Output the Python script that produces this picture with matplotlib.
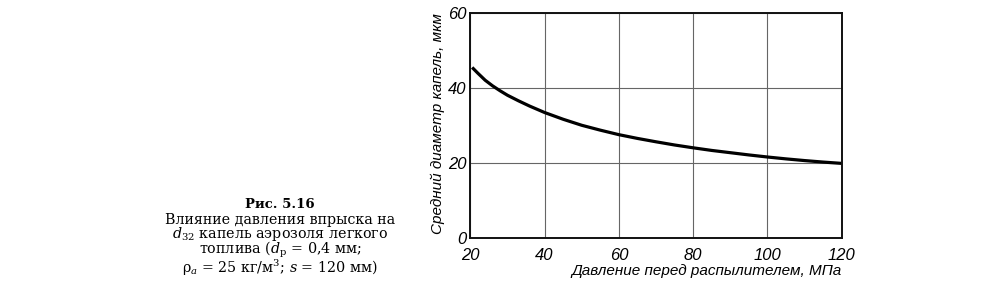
import matplotlib
matplotlib.use("Agg")
import matplotlib.pyplot as plt

# Data
pressure = [20.5, 22, 24, 26, 28, 30, 33, 36, 40, 45, 50, 55, 60, 65, 70, 75,
            80, 85, 90, 95, 100, 105, 110, 115, 120]
diameter = [45.5, 44.0, 42.1, 40.6, 39.3, 38.1, 36.6, 35.2, 33.5, 31.7, 30.1,
            28.8, 27.6, 26.6, 25.7, 24.85, 24.1, 23.4, 22.8, 22.2, 21.65, 21.15,
            20.7, 20.3, 19.95]
x_ticks = [20, 40, 60, 80, 100, 120]
y_ticks = [0, 20, 40, 60]
x_label = "Давление перед распылителем, МПа"
y_label = "Средний диаметр капель, мкм"
caption_title = "Рис. 5.16"
caption_lines = [
    "Влияние давления впрыска на",
    "$d_{32}$ капель аэрозоля легкого",
    "топлива ($d_{\\mathrm{р}}$ = 0,4 мм;",
    "ρ$_{a}$ = 25 кг/м$^{3}$; $s$ = 120 мм)",
]

plt.rcParams['mathtext.fontset'] = 'dejavuserif'
sans = ['Liberation Sans', 'DejaVu Sans']

fig = plt.figure(figsize=(10, 2.87), dpi=100)
ax = fig.add_axes([0.4703, 0.1697, 0.3714, 0.785])

ax.plot(pressure, diameter, color='black', lw=2.3, solid_capstyle='butt')
ax.set_xlim(20, 120)
ax.set_ylim(0, 60)
ax.set_xticks(x_ticks)
ax.set_yticks(y_ticks)
ax.grid(True, color='#666666', lw=0.8)
for s in ax.spines.values():
    s.set_linewidth(1.4)
    s.set_color('#111111')
ax.tick_params(axis='x', length=0, pad=7, labelsize=12)
ax.tick_params(axis='y', length=0, pad=3, labelsize=12)
for lbl in ax.get_xticklabels() + ax.get_yticklabels():
    lbl.set_fontstyle('italic')
    lbl.set_fontfamily(sans)

ax.set_xlabel(x_label, fontsize=11, fontstyle='italic', family=sans,
              loc='right', labelpad=1)
ax.set_ylabel(y_label, fontsize=11, fontstyle='italic', family=sans,
              loc='top', labelpad=2)

fig.text(0.280, 1 - 204 / 287, caption_title, ha='center', va='center',
         fontsize=9.5, family='DejaVu Serif', fontweight='bold')
fig.text(0.280, 1 - 278 / 287, "\n".join(caption_lines), ha='center',
         va='bottom', multialignment='center', fontsize=10.3,
         family='DejaVu Serif', linespacing=0.82)

fig.savefig("out.png", dpi=100)
